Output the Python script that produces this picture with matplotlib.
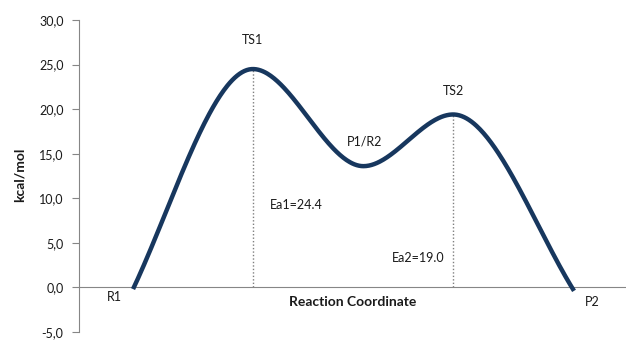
import numpy as np
import matplotlib
matplotlib.use("Agg")
import matplotlib.pyplot as plt

# ---- data ----
states = ["R1", "TS1", "P1/R2", "TS2", "P2"]
coord = [0.99, 3.18, 5.20, 6.84, 9.05]
energy = [-0.2, 24.5, 13.6, 19.4, -0.4]
y_ticks = [-5, 0, 5, 10, 15, 20, 25, 30]
y_tick_labels = ["-5,0", "0,0", "5,0", "10,0", "15,0", "20,0", "25,0", "30,0"]
ea_labels = ["Ea1=24.4", "Ea2=19.0"]

plt.rcParams['font.family'] = ['Lato', 'DejaVu Sans']

# smooth line through the points (Hermite, flat at the stationary points)
x = np.array(coord)
y = np.array(energy)
slopes = np.zeros_like(x)
slopes[0] = 1.15 * (y[1] - y[0]) / (x[1] - x[0])
slopes[-1] = 1.1 * (y[-1] - y[-2]) / (x[-1] - x[-2])
xs, ys = [], []
for i in range(len(x) - 1):
    h = x[i + 1] - x[i]
    t = np.linspace(0, 1, 100)
    h00 = 2 * t**3 - 3 * t**2 + 1
    h10 = t**3 - 2 * t**2 + t
    h01 = -2 * t**3 + 3 * t**2
    h11 = t**3 - t**2
    xs.append(x[i] + t * h)
    ys.append(h00 * y[i] + h10 * h * slopes[i] + h01 * y[i + 1] + h11 * h * slopes[i + 1])
xs = np.concatenate(xs)
ys = np.concatenate(ys)

fig = plt.figure(figsize=(6.26, 3.40), dpi=100)
ax = fig.add_axes([0.126, 0.024, 0.874, 0.917])
ax.set_xlim(0, 10)
ax.set_ylim(-5, 30)

ax.plot(xs, ys, color="#17375E", lw=3.2, solid_capstyle="butt", zorder=3)

# dotted drop lines at transition states
for i in (1, 3):
    ax.plot([x[i], x[i]], [0, y[i]], color="#7F7F7F", lw=1.0, ls=(0, (1, 1.5)), zorder=2)

for s in ["top", "right"]:
    ax.spines[s].set_visible(False)
ax.spines["bottom"].set_position(("data", 0))
ax.spines["bottom"].set_color("#868686")
ax.spines["left"].set_color("#868686")
ax.spines["left"].set_bounds(-5, 30)
ax.set_xticks([])
ax.set_yticks(y_ticks)
ax.set_yticklabels(y_tick_labels)
ax.tick_params(axis="y", direction="out", length=5, color="#868686",
               labelsize=9, labelcolor="#1a1a1a", pad=6)

txt = dict(color="#1a1a1a", fontsize=9)
ax.text(x[0] - 0.2, -1.1, states[0], ha="right", va="center", **txt)
ax.text(x[1], 27.8, states[1], ha="center", va="center", **txt)
ax.text(x[2] - 0.3, 16.4, states[2], ha="left", va="center", **txt)
ax.text(x[3], 22.0, states[3], ha="center", va="center", **txt)
ax.text(x[4] + 0.2, -1.6, states[4], ha="left", va="center", **txt)
ax.text(x[1] + 0.32, 9.2, ea_labels[0], ha="left", va="center", **txt)
ax.text(x[3] - 0.15, 3.3, ea_labels[1], ha="right", va="center", **txt)
ax.text(5.0, -1.6, "Reaction Coordinate", ha="center", va="center",
        fontsize=10, fontweight="bold", color="#1a1a1a")
fig.text(0.032, 0.485, "kcal/mol", rotation=90, ha="center", va="center",
         fontsize=10, fontweight="bold", color="#1a1a1a")

fig.savefig("out.png", dpi=100)
